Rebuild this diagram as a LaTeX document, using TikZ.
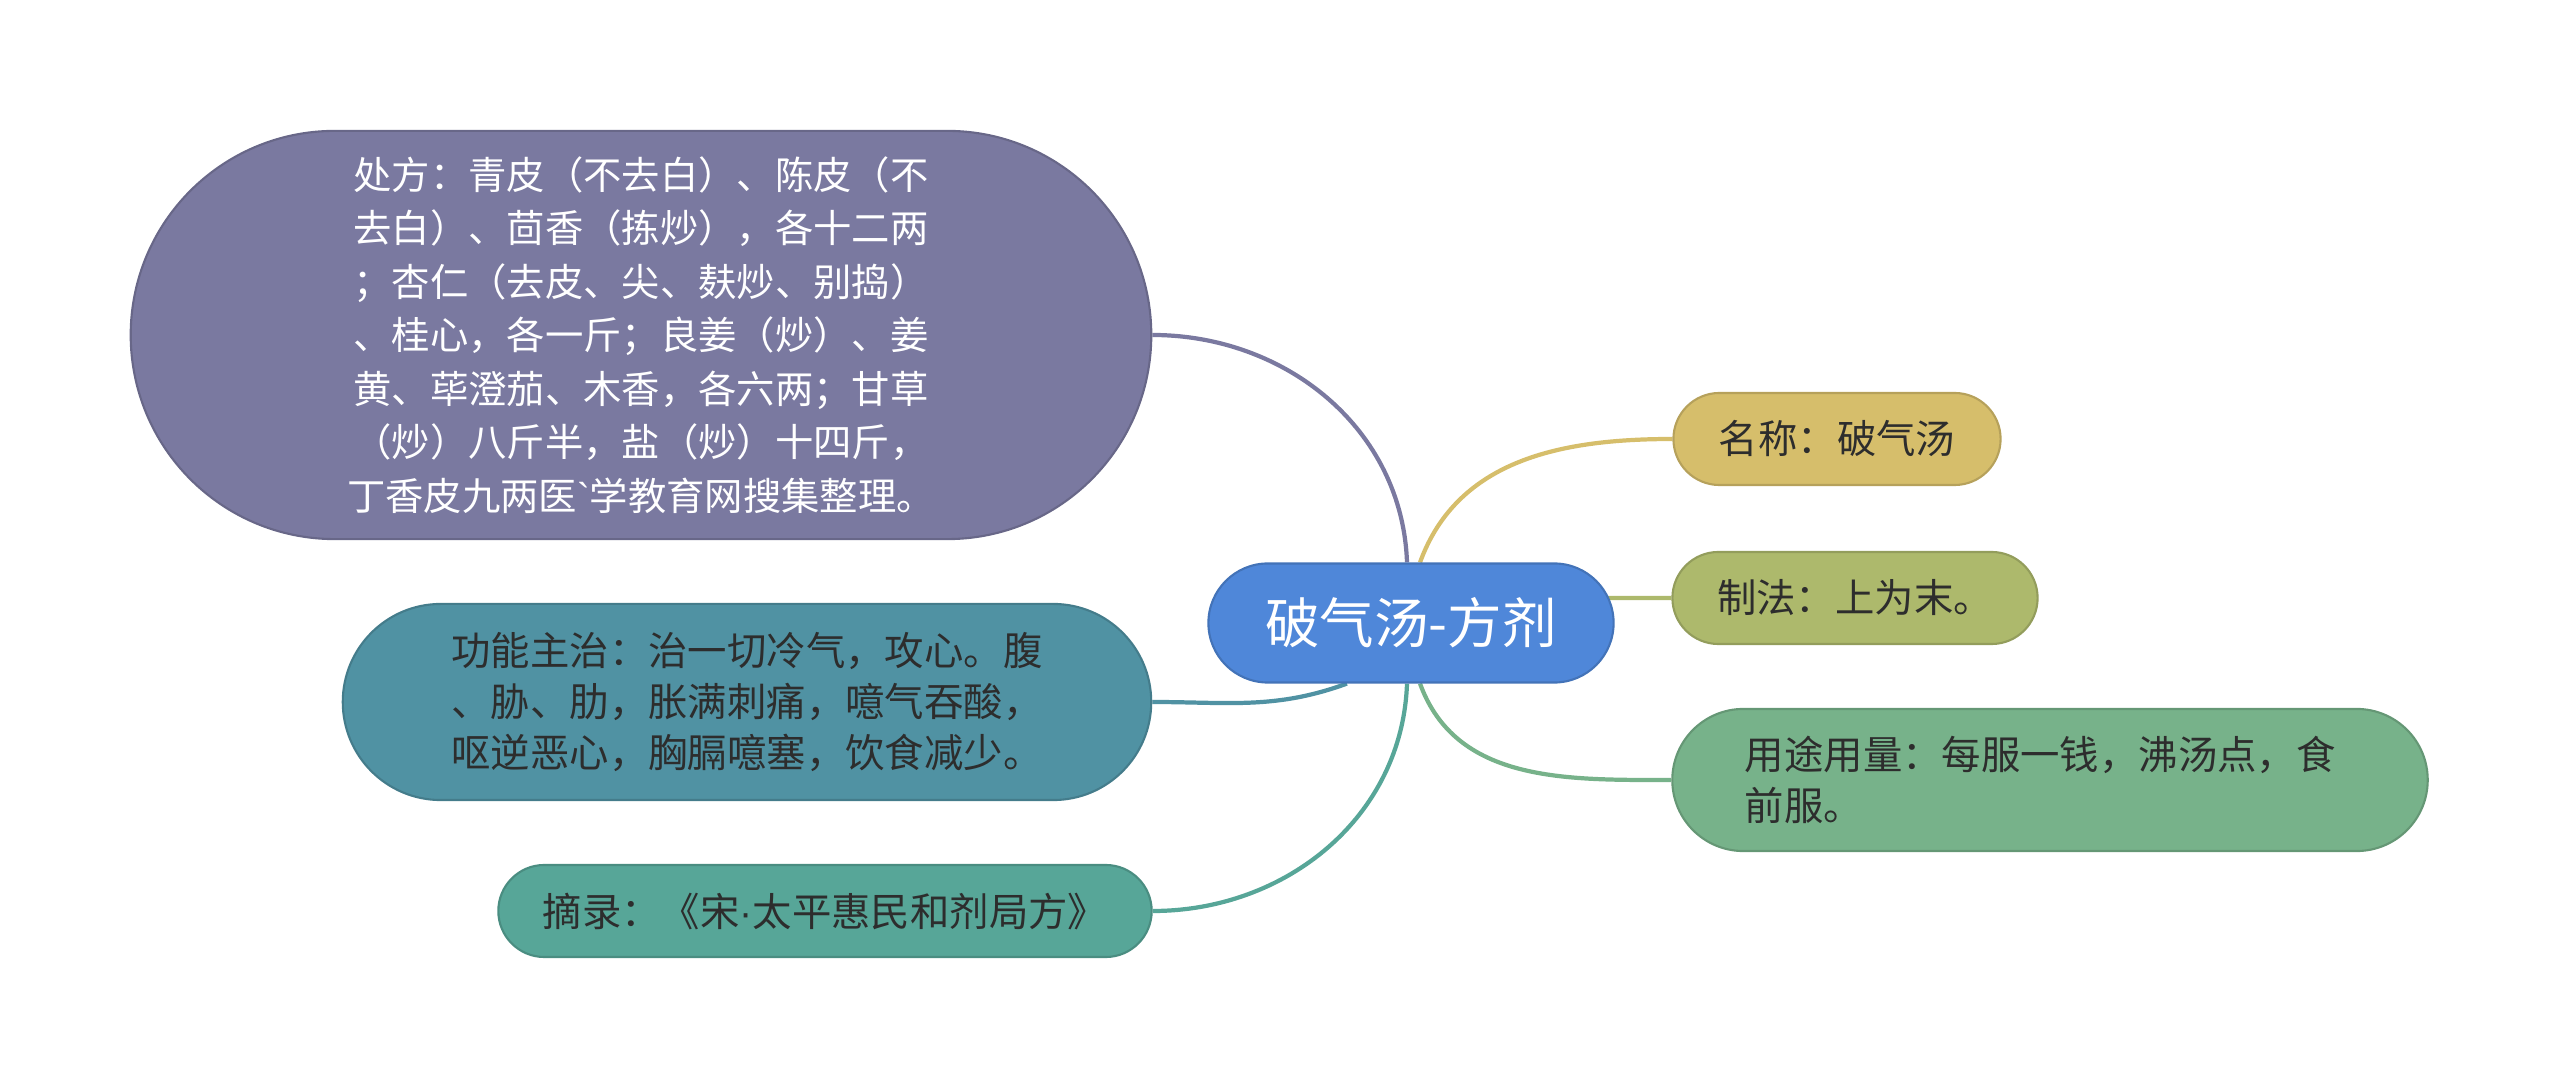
\documentclass[tikz,border=0pt]{standalone}
\usepackage{fontspec}
\setmainfont{Noto Sans CJK SC}
\newfontfamily\latinfont{Liberation Sans}
\usepackage{tikz}
\usetikzlibrary{positioning, backgrounds}
\definecolor{cblue}{RGB}{79,135,217}
\definecolor{cpurple}{RGB}{122,121,160}
\definecolor{cteal}{RGB}{80,146,163}
\definecolor{cgreen}{RGB}{87,166,152}
\definecolor{cgold}{RGB}{214,190,107}
\definecolor{colive}{RGB}{173,185,108}
\definecolor{cmint}{RGB}{119,178,138}
\definecolor{ctext}{RGB}{45,45,45}
\tikzstyle{pill} = [rectangle, draw, line width=0.6pt, inner sep=0pt, align=center, text=ctext, font=\fontsize{11.2}{14.6}\selectfont]
\tikzstyle{line} = [draw, line width=1.2pt]

\begin{document}
\begin{tikzpicture}[x=0.01cm, y=-0.01cm]
			\useasboundingbox (0,0) rectangle (2560,1089);

			% centre
			\node [pill, fill=cblue, draw=cblue!85!black, text=white, minimum width=4.05cm, minimum height=1.19cm, rounded corners=0.595cm, font=\fontsize{15.5}{18}\selectfont] (c) at (1411,623) {破气汤-方剂};

			% left side
			\node [pill, fill=cpurple, draw=cpurple!85!black, text=white, minimum width=10.2cm, minimum height=4.08cm, rounded corners=2.04cm, font=\fontsize{10.9}{15.2}\selectfont] (cf) at (641,335) {处方：青皮（不去白）、陈皮（不\\去白）、茴香（拣炒），各十二两\\；杏仁（去皮、尖、麸炒、别捣）\\、桂心，各一斤；良姜（炒）、姜\\黄、荜澄茄、木香，各六两；甘草\\（炒）八斤半，盐（炒）十四斤，\\丁香皮九两医{\latinfont\symbol{"60}}学教育网搜集整理。};
			\node [pill, fill=cteal, draw=cteal!85!black, minimum width=8.08cm, minimum height=1.96cm, rounded corners=0.98cm] (gn) at (747,702) {功能主治：治一切冷气，攻心。腹\\、胁、肋，胀满刺痛，噫气吞酸，\\呕逆恶心，胸膈噫塞，饮食减少。};
			\node [pill, fill=cgreen, draw=cgreen!85!black, minimum width=6.53cm, minimum height=0.92cm, rounded corners=0.46cm] (zl) at (825,911) {摘录：《宋{\latinfont ·}太平惠民和剂局方》};

			% right side
			\node [pill, fill=cgold, draw=cgold!85!black, minimum width=3.27cm, minimum height=0.92cm, rounded corners=0.46cm] (mc) at (1837,439) {名称：破气汤};
			\node [pill, fill=colive, draw=colive!85!black, minimum width=3.65cm, minimum height=0.92cm, rounded corners=0.46cm] (zf) at (1855,598) {制法：上为末。};
			\node [pill, fill=cmint, draw=cmint!85!black, minimum width=7.55cm, minimum height=1.42cm, rounded corners=0.71cm, text width=6.1cm, align=left] (yt) at (2050,780) {用途用量：每服一钱，沸汤点，食\\前服。};

			\begin{scope}[on background layer]
			\path [line, draw=cpurple] ([xshift=-0.04cm]c.north) to[out=92, in=0] (cf.east);
			\path [line, draw=cgold] ([xshift=0.09cm]c.north) to[out=70, in=180] (mc.west);
			\path [line, draw=colive] ([yshift=0.25cm, xshift=-0.1cm]c.east) -- (zf.west);
			\path [line, draw=cteal] ([xshift=-0.64cm]c.south) to[out=200, in=0] (gn.east);
			\path [line, draw=cgreen] ([xshift=-0.04cm]c.south) to[out=-92, in=0] (zl.east);
			\path [line, draw=cmint] ([xshift=0.09cm]c.south) to[out=-70, in=180] (yt.west);
			\end{scope}
		\end{tikzpicture}
\end{document}
